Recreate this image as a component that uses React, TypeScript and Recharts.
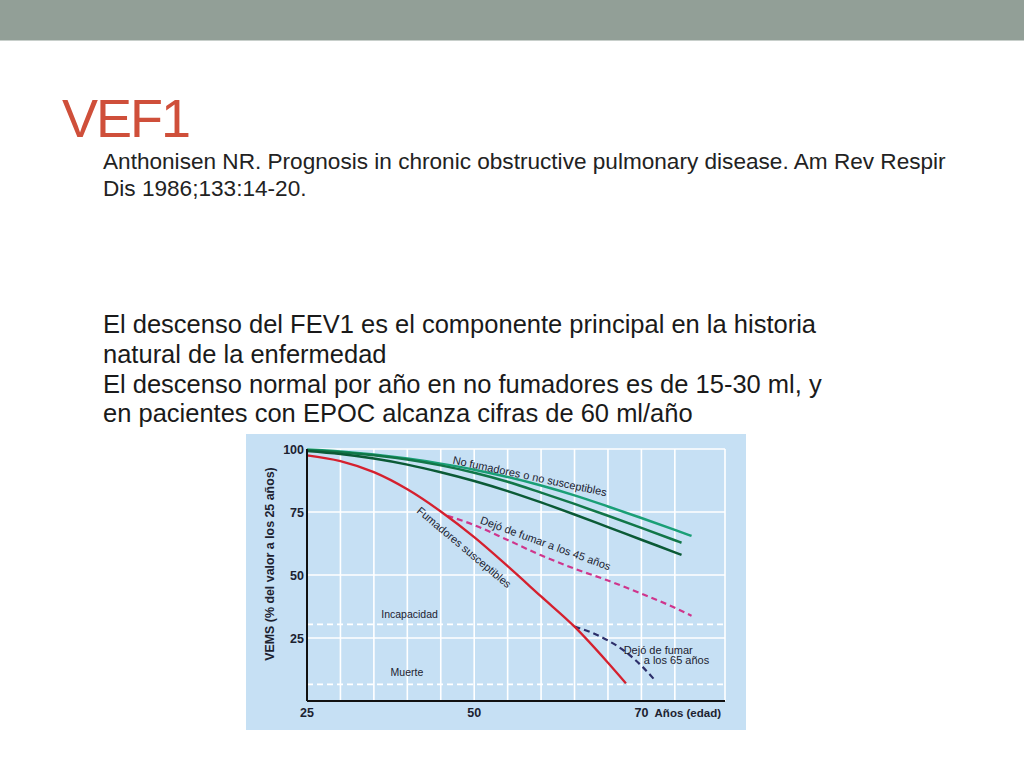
import { LineChart, Line, XAxis, YAxis, CartesianGrid, ReferenceLine, ReferenceDot } from "recharts"

// VEMS (% of the value at 25 years) by age
const noSmokerTop = [
  { age: 25, vems: 99.8 }, { age: 30, vems: 99.0 }, { age: 35, vems: 97.8 }, { age: 40, vems: 96.2 },
  { age: 45, vems: 94.2 }, { age: 50, vems: 91.8 }, { age: 55, vems: 88.9 }, { age: 60, vems: 85.5 },
  { age: 65, vems: 81.6 }, { age: 70, vems: 77.2 }, { age: 75, vems: 72.6 }, { age: 80, vems: 67.9 },
  { age: 82.5, vems: 65.5 },
]
const noSmokerMid = [
  { age: 25, vems: 99.5 }, { age: 30, vems: 98.7 }, { age: 35, vems: 97.5 }, { age: 40, vems: 95.8 },
  { age: 45, vems: 93.5 }, { age: 50, vems: 90.6 }, { age: 55, vems: 87.0 }, { age: 60, vems: 82.7 },
  { age: 65, vems: 78.2 }, { age: 70, vems: 73.5 }, { age: 75, vems: 68.7 }, { age: 80, vems: 63.8 },
  { age: 81, vems: 62.8 },
]
const noSmokerLow = [
  { age: 25, vems: 99.2 }, { age: 30, vems: 98.0 }, { age: 35, vems: 96.2 }, { age: 40, vems: 93.8 },
  { age: 45, vems: 90.8 }, { age: 50, vems: 87.3 }, { age: 55, vems: 83.3 }, { age: 60, vems: 78.8 },
  { age: 65, vems: 74.0 }, { age: 70, vems: 69.0 }, { age: 75, vems: 64.0 }, { age: 80, vems: 59.0 },
  { age: 81, vems: 58.0 },
]
const susceptible = [
  { age: 25, vems: 97.5 }, { age: 30, vems: 95.2 }, { age: 35, vems: 90.8 }, { age: 40, vems: 84 },
  { age: 45, vems: 75.2 }, { age: 50, vems: 65 }, { age: 55, vems: 53.5 }, { age: 60, vems: 41.5 },
  { age: 65, vems: 29.5 }, { age: 70, vems: 15.2 }, { age: 72.7, vems: 7 },
]
const quitAt45 = [
  { age: 46, vems: 73.5 }, { age: 50, vems: 69.8 }, { age: 55, vems: 63.9 }, { age: 60, vems: 57.8 },
  { age: 65, vems: 52.5 }, { age: 70, vems: 47.8 }, { age: 75, vems: 42.6 }, { age: 80, vems: 37.0 },
  { age: 82.5, vems: 33.8 },
]
const quitAt65 = [
  { age: 65, vems: 29.5 }, { age: 67.5, vems: 27.2 }, { age: 70, vems: 24 }, { age: 72.5, vems: 19.8 },
  { age: 75, vems: 14 }, { age: 77, vems: 8.3 },
]

const xTicks = [25, 30, 35, 40, 45, 50, 55, 60, 65, 70, 75, 80]
const xTickLabels: Record<number, string> = { 25: "25", 50: "50", 75: "70" }
const yTicks = [0, 25, 50, 75, 100]
const thresholds = [
  { value: 30.4, label: "Incapacidad", age: 36.1, at: 32.8 },
  { value: 6.6, label: "Muerte", age: 37.5, at: 10 },
]
const annotations = [
  { age: 46.7, vems: 94.2, angle: 12, text: "No fumadores o no susceptibles" },
  { age: 50.8, vems: 70.5, angle: 20, text: "Dejó de fumar a los 45 años" },
  { age: 41.3, vems: 75, angle: 40, text: "Fumadores susceptibles" },
  { age: 72.35, vems: 18.6, angle: 0, text: "Dejó de fumar" },
  { age: 75.35, vems: 14.7, angle: 0, text: "a los 65 años" },
]

const bodyLines = [
  { y: 333, text: "El descenso del FEV1 es el componente principal en la historia" },
  { y: 362.5, text: "natural de la enfermedad" },
  { y: 393, text: "El descenso normal por año en no fumadores es de 15-30 ml, y" },
  { y: 421.5, text: "en pacientes con EPOC alcanza cifras de 60 ml/año" },
]

const font = "'Liberation Sans', Arial, sans-serif"
const ink = "#1c2230"

function XTick({ x, y, payload }: any) {
  const label = xTickLabels[payload.value]
  if (!label) return null
  return (
    <text x={x} y={y + 8} textAnchor="middle" fontSize={12.5} fontWeight="bold" fill={ink} fontFamily={font}>
      {label}
    </text>
  )
}

function YTick({ x, y, payload }: any) {
  if (payload.value === 0) return null
  return (
    <text x={x + 5} y={y + 4.5} textAnchor="end" fontSize={12.5} fontWeight="bold" fill={ink} fontFamily={font}>
      {payload.value}
    </text>
  )
}

function Note({ cx, cy, text, angle, size = 11 }: any) {
  return (
    <text
      x={cx}
      y={cy}
      transform={`rotate(${angle} ${cx} ${cy})`}
      fontSize={size}
      fill={ink}
      fontFamily={font}
    >
      {text}
    </text>
  )
}

function VemsChart() {
  return (
    <LineChart width={500} height={296} margin={{ top: 15, right: 21, left: 0, bottom: 0 }}>
      <CartesianGrid stroke="#ffffff" strokeWidth={1.6} />
      <XAxis
        type="number"
        dataKey="age"
        domain={[25, 87.5]}
        ticks={xTicks}
        height={29}
        tick={<XTick />}
        tickLine={false}
        stroke="#111"
        strokeWidth={2}
        label={{
          content: ({ viewBox }: any) => (
            <text
              x={viewBox.x + viewBox.width - 4}
              y={viewBox.y + 16}
              textAnchor="end"
              fontSize={11.5}
              fontWeight="bold"
              fill={ink}
              fontFamily={font}
            >
              Años (edad)
            </text>
          ),
        }}
      />
      <YAxis
        type="number"
        domain={[0, 100]}
        ticks={yTicks}
        width={61}
        tick={<YTick />}
        tickLine={false}
        stroke="#111"
        strokeWidth={2}
        label={{
          content: ({ viewBox }: any) => {
            const lx = viewBox.x + 28
            const ly = viewBox.y + viewBox.height / 2 - 11
            return (
              <text
                x={lx}
                y={ly}
                transform={`rotate(-90 ${lx} ${ly})`}
                textAnchor="middle"
                fontSize={12.4}
                fontWeight="bold"
                fill={ink}
                fontFamily={font}
              >
                VEMS (% del valor a los 25 años)
              </text>
            )
          },
        }}
      />
      {thresholds.map((t) => (
        <ReferenceLine key={t.label} y={t.value} stroke="#ffffff" strokeWidth={1.6} strokeDasharray="6 4" />
      ))}
      {thresholds.map((t) => (
        <ReferenceDot
          key={t.label + "-txt"}
          x={t.age}
          y={t.at}
          r={1}
          shape={(p: any) => <Note cx={p.cx} cy={p.cy} text={t.label} angle={0} size={10.5} />}
        />
      ))}
      <Line data={noSmokerTop} dataKey="vems" type="monotone" stroke="#1a9f76" strokeWidth={2.5} dot={false} isAnimationActive={false} />
      <Line data={noSmokerMid} dataKey="vems" type="monotone" stroke="#117648" strokeWidth={2.5} dot={false} isAnimationActive={false} />
      <Line data={noSmokerLow} dataKey="vems" type="monotone" stroke="#0b5a36" strokeWidth={2.5} dot={false} isAnimationActive={false} />
      <Line data={quitAt45} dataKey="vems" type="monotone" stroke="#cf358c" strokeWidth={2.2} strokeDasharray="6 4" dot={false} isAnimationActive={false} />
      <Line data={quitAt65} dataKey="vems" type="monotone" stroke="#2c2f6a" strokeWidth={2.2} strokeDasharray="6 4" dot={false} isAnimationActive={false} />
      <Line data={susceptible} dataKey="vems" type="monotone" stroke="#d5202e" strokeWidth={2.3} dot={false} isAnimationActive={false} />
      {annotations.map((a) => (
        <ReferenceDot
          key={a.text}
          x={a.age}
          y={a.vems}
          r={1}
          shape={(p: any) => <Note cx={p.cx} cy={p.cy} text={a.text} angle={a.angle} />}
        />
      ))}
    </LineChart>
  )
}

export default function App() {
  return (
    <div style={{ position: "absolute", left: 0, top: 0, width: 1024, height: 768, background: "#fff", fontFamily: font }}>
      <svg width={1024} height={768} style={{ position: "absolute", left: 0, top: 0 }}>
        <rect x={0} y={0} width={1024} height={40.5} fill="#929f97" />
        <text x={62} y={137} fontSize={54} letterSpacing={-2} fill="#cf4f3a" fontFamily={font}>
          VEF1
        </text>
        <text x={103} y={168.5} fontSize={22.6} fill="#222" fontFamily={font}>
          Anthonisen NR. Prognosis in chronic obstructive pulmonary disease. Am Rev Respir
        </text>
        <text x={103} y={196} fontSize={22.6} fill="#222" fontFamily={font}>
          Dis 1986;133:14-20.
        </text>
        {bodyLines.map((l) => (
          <text key={l.text} x={103} y={l.y} fontSize={25.5} fill="#1a1a1a" fontFamily={font}>
            {l.text}
          </text>
        ))}
      </svg>
      <div style={{ position: "absolute", left: 246, top: 434, width: 500, height: 296, background: "#c6e0f4" }}>
        <VemsChart />
      </div>
    </div>
  )
}
